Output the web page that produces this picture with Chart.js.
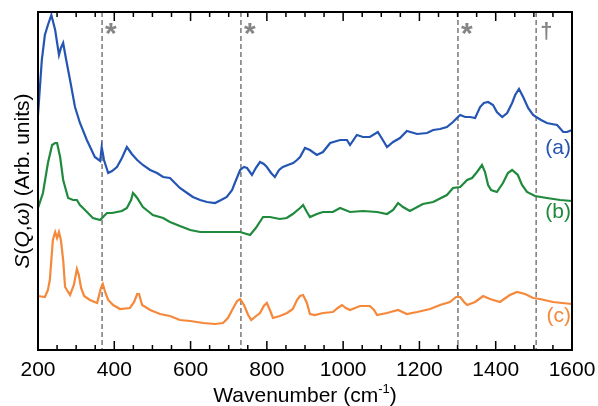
<!DOCTYPE html>
<html>
<head>
<meta charset="utf-8">
<script src="https://cdn.jsdelivr.net/npm/chart.js@4.4.1/dist/chart.umd.min.js"></script>
<style>
  html, body { margin: 0; padding: 0; background: #fff; }
  #wrap { width: 598px; height: 406px; }
</style>
</head>
<body>
<div id="wrap"><canvas id="chartSpectra"></canvas></div>
<script>
// spectrum (a) - blue
const waveA = [200,210,218,226,235,245,255,260,266,273,284,297,310,328,349,363,367,373,384,394,407,420,433,446,460,475,494,512,528,546,572,591,606,625,643,664,680,695,709,716,730,740,748,761,771,782,792,800,811,821,832,842,855,869,879,887,900,913,931,947,966,992,1010,1018,1036,1052,1070,1091,1104,1115,1131,1149,1167,1194,1220,1236,1254,1272,1288,1301,1307,1320,1333,1346,1359,1369,1380,1393,1403,1417,1430,1443,1451,1461,1472,1485,1498,1506,1519,1534,1547,1561,1577,1587,1600];
const valA = [235,290,315,325,335,320,295,302,307,292,270,243,227,210,193,189,203,190,177,179,183,192,203,196,190,185,180,177,173,172,162,157,153,150,148,147,150,153,160,167,180,183,182,175,182,188,186,183,177,173,180,183,185,187,190,193,202,200,195,198,207,210,210,205,215,213,213,218,210,203,208,212,219,216,217,220,221,223,228,233,235,233,233,232,243,247,248,245,238,233,237,247,255,261,253,242,235,233,230,227,226,225,218,218,220];

// spectrum (b) - green
const waveB = [200,213,226,237,245,250,258,266,279,292,302,310,318,331,344,363,373,381,394,407,420,433,444,449,454,460,475,488,501,528,546,572,599,625,664,709,730,756,771,790,808,834,852,868,887,895,905,913,931,947,973,992,1018,1052,1089,1115,1131,1144,1157,1175,1209,1236,1272,1288,1307,1325,1338,1351,1364,1372,1380,1388,1403,1419,1432,1443,1458,1469,1482,1503,1534,1569,1600];
const valB = [142,157,187,205,207,207,193,170,152,150,150,145,142,137,132,130,134,137,137,138,139,142,150,157,155,152,143,139,135,132,128,124,120,118,118,118,118,115,122,133,133,131,132,136,142,145,138,133,136,138,138,142,138,139,138,136,140,147,143,139,146,148,155,162,163,170,172,178,185,178,165,160,158,167,177,180,175,165,158,154,152,150,149];

// spectrum (c) - orange
const waveC = [200,218,226,231,239,245,250,255,260,266,271,284,294,302,307,313,321,336,355,365,370,376,384,397,415,441,452,460,465,473,494,520,546,572,599,633,664,685,698,709,722,730,740,751,759,772,782,792,800,808,816,834,853,868,879,887,895,905,913,926,947,973,986,997,1007,1018,1044,1070,1081,1089,1115,1144,1167,1194,1228,1254,1280,1296,1307,1317,1325,1346,1367,1385,1411,1437,1456,1477,1498,1516,1550,1600];
const valC = [54,53,60,70,110,118,112,118,110,90,63,55,65,81,75,62,54,50,47,62,66,58,50,45,41,42,48,56,56,45,40,36,34,30,29,27,26,27,32,40,49,51,45,35,30,34,37,44,47,40,32,34,37,41,50,54,55,47,36,35,37,38,42,45,42,40,44,44,40,35,37,40,36,38,41,45,48,53,53,48,45,48,54,51,48,55,58,56,52,51,48,46];

const seriesLabels = ['(a)', '(b)', '(c)'];
const seriesColors = ['#2455b3', '#1f8a3c', '#f5883a'];
const markerWaves = [368, 732, 1301, 1506];
const markerSymbols = ['*', '*', '*', '\u2020'];
const xTickLabels = [200, 400, 600, 800, 1000, 1200, 1400, 1600];

const toPoints = (xs, ys) => xs.map((x, i) => ({ x: x, y: ys[i] }));

const FONT = '"Liberation Sans", Arial, sans-serif';

const decor = {
  id: 'decor',
  beforeDatasetsDraw(chart) {
    const { ctx, chartArea: a, scales: { x } } = chart;
    ctx.save();
    // dashed marker lines
    ctx.strokeStyle = '#7a7a7a';
    ctx.lineWidth = 1.5;
    ctx.setLineDash([5, 3]);
    markerWaves.forEach(w => {
      const px = x.getPixelForValue(w);
      ctx.beginPath();
      ctx.moveTo(px, a.top);
      ctx.lineTo(px, a.bottom);
      ctx.stroke();
    });
    ctx.setLineDash([]);
    ctx.fillStyle = '#858585';
    ctx.textAlign = 'left';
    ctx.textBaseline = 'top';
    markerWaves.forEach((w, i) => {
      const px = x.getPixelForValue(w);
      if (markerSymbols[i] === '*') {
        ctx.font = 'bold 30px ' + FONT;
        ctx.fillText('*', px + 3, a.top + 8);
      } else {
        ctx.font = 'bold 22px ' + FONT;
        ctx.fillText(markerSymbols[i], px + 4, a.top + 9);
      }
    });
    ctx.restore();
  },
  afterDraw(chart) {
    const { ctx, chartArea: a, scales: { x } } = chart;
    ctx.save();
    // frame
    ctx.strokeStyle = '#000';
    ctx.lineWidth = 2;
    ctx.strokeRect(a.left, a.top, a.right - a.left, a.bottom - a.top);
    // inward ticks top and bottom
    ctx.lineWidth = 1.5;
    for (let w = 200; w <= 1600; w += 50) {
      const px = x.getPixelForValue(w);
      const len = (w % 200 === 0) ? 9 : 5;
      ctx.beginPath();
      ctx.moveTo(px, a.bottom); ctx.lineTo(px, a.bottom - len);
      ctx.moveTo(px, a.top); ctx.lineTo(px, a.top + len);
      ctx.stroke();
    }
    // series labels
    ctx.font = '21px ' + FONT;
    ctx.textAlign = 'right';
    ctx.textBaseline = 'middle';
    const labelY = [148, 212, 316];
    seriesLabels.forEach((t, i) => {
      ctx.fillStyle = seriesColors[i];
      ctx.fillText(t, a.right - 1, labelY[i]);
    });
    // x title with superscript
    ctx.fillStyle = '#000';
    ctx.textAlign = 'left';
    ctx.textBaseline = 'alphabetic';
    const base = 'Wavenumber (cm';
    ctx.font = '21px ' + FONT;
    const wBase = ctx.measureText(base).width;
    const wClose = ctx.measureText(')').width;
    ctx.font = '13px ' + FONT;
    const wSup = ctx.measureText('-1').width;
    let tx = (a.left + a.right) / 2 - (wBase + wSup + wClose) / 2;
    const ty = 402;
    ctx.font = '21px ' + FONT;
    ctx.fillText(base, tx, ty);
    tx += wBase;
    ctx.font = '13px ' + FONT;
    ctx.fillText('-1', tx, ty - 9);
    tx += wSup;
    ctx.font = '21px ' + FONT;
    ctx.fillText(')', tx, ty);
    // y title with italic parts
    const parts = [['S', true], ['(', false], ['Q', true], [',', false], ['\u03c9', true], [') (Arb. units)', false]];
    const fontFor = it => (it ? 'italic ' : '') + '21px ' + FONT;
    let total = 0;
    parts.forEach(p => { ctx.font = fontFor(p[1]); total += ctx.measureText(p[0]).width; });
    ctx.translate(29, (a.top + a.bottom) / 2);
    ctx.rotate(-Math.PI / 2);
    let cx = -total / 2;
    parts.forEach(p => {
      ctx.font = fontFor(p[1]);
      ctx.fillText(p[0], cx, 0);
      cx += ctx.measureText(p[0]).width;
    });
    ctx.restore();
  }
};

const ctx = document.getElementById('chartSpectra').getContext('2d');
new Chart(ctx, {
  type: 'line',
  data: {
    datasets: [
      { label: seriesLabels[0], data: toPoints(waveA, valA), borderColor: seriesColors[0] },
      { label: seriesLabels[1], data: toPoints(waveB, valB), borderColor: seriesColors[1] },
      { label: seriesLabels[2], data: toPoints(waveC, valC), borderColor: seriesColors[2] }
    ]
  },
  options: {
    responsive: true,
    maintainAspectRatio: false,
    animation: false,
    layout: { padding: { left: 38, right: 26, top: 12, bottom: 0 } },
    elements: {
      point: { radius: 0 },
      line: { borderWidth: 2.2, tension: 0, fill: false }
    },
    scales: {
      x: {
        type: 'linear',
        min: 200,
        max: 1600,
        grid: { display: false, drawTicks: false },
        border: { display: false },
        ticks: {
          stepSize: 200,
          padding: 8,
          color: '#000',
          font: { size: 21, family: FONT },
          callback: v => xTickLabels.includes(v) ? String(v) : ''
        },
        afterFit: s => { s.height = 56; s.paddingLeft = 0; s.paddingRight = 0; }
      },
      y: {
        display: false,
        min: 0,
        max: 338
      }
    },
    plugins: {
      legend: { display: false },
      tooltip: { enabled: false }
    }
  },
  plugins: [decor]
});
</script>
</body>
</html>
